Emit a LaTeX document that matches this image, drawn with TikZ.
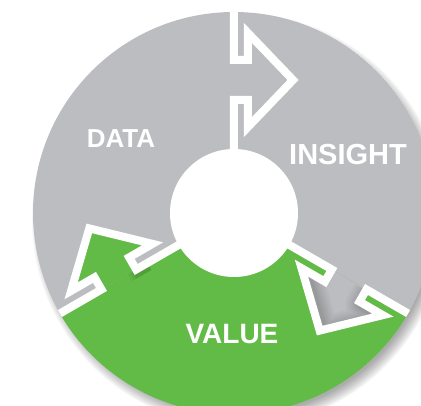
\documentclass[tikz,border=0pt]{standalone}
\usepackage{fontspec}
\setmainfont{Liberation Sans}
\begin{document}
\begin{tikzpicture}[x=1pt,y=1pt]
\definecolor{ringgray}{RGB}{188,189,192}
\definecolor{valuegreen}{RGB}{99,187,71}
\tikzset{
  seppath/.style={draw=white, line width=8pt, line join=miter, miter limit=10},
  ringtext/.style={text=white, inner sep=0pt, font=\bfseries}
}
\useasboundingbox (-234,-193) rectangle (187,213);

% soft drop shadow under the disk
\foreach \k in {0,...,10}
  \fill[black, opacity=0.035] (5,-7) circle ({207-\k*1.2});

\begin{scope}
  \clip (0,0) circle (201);
  % ring base and the VALUE sector
  \fill[ringgray] (0,0) circle (201);
  \fill[valuegreen] (0,0) -- (210:215) arc[start angle=210, end angle=330, radius=215] -- cycle;
  % arrow heads pushed clockwise across each boundary
  \foreach \rot/\col in {0/ringgray, 120/valuegreen, 240/ringgray}
    \fill[\col, rotate=\rot] (0,153) -- (14,153) -- (14,180) -- (59,133)
      -- (14,86) -- (14,113) -- (0,113) -- cycle;
  % soft shadow cast inside the INSIGHT arrow head
  \begin{scope}[rotate=240]
    \clip (0,153) -- (14,153) -- (14,180) -- (59,133)
      -- (14,86) -- (14,113) -- (0,113) -- cycle;
    \foreach \w in {34,30,26,22,19,16,13,11}
      \draw[black, opacity=0.022, line width=\w pt, line join=round, shift={(1,4)}]
        (0,153) -- (14,153) -- (14,180) -- (59,133) -- (14,86);
  \end{scope}
  % soft shadow along the step of the VALUE arrow
  \begin{scope}[rotate=120]
    \clip (-8,100) rectangle (0,125);
    \foreach \w in {24,20,16,13,11}
      \draw[black, opacity=0.03, line width=\w pt, line join=miter, shift={(-3,-2)}]
        (14,86) -- (14,113) -- (0,113) -- (0,90);
  \end{scope}
  % white separators
  \foreach \rot in {0,120,240}
    \draw[seppath, rotate=\rot] (0,208) -- (0,153) -- (14,153) -- (14,180)
      -- (59,133) -- (14,86) -- (14,113) -- (0,113) -- (0,55);
\end{scope}

% hub
\fill[white] (0,0) circle (64);

\node[ringtext, font=\bfseries\fontsize{26}{26}\selectfont] (data) at (-113,74.5) {DATA};
\node[ringtext, font=\bfseries\fontsize{29}{29}\selectfont] (insight) at (114,58.5) {INSIGHT};
\node[ringtext, font=\bfseries\fontsize{28}{28}\selectfont] (value) at (-2,-120.8) {VALUE};
\end{tikzpicture}
\end{document}
